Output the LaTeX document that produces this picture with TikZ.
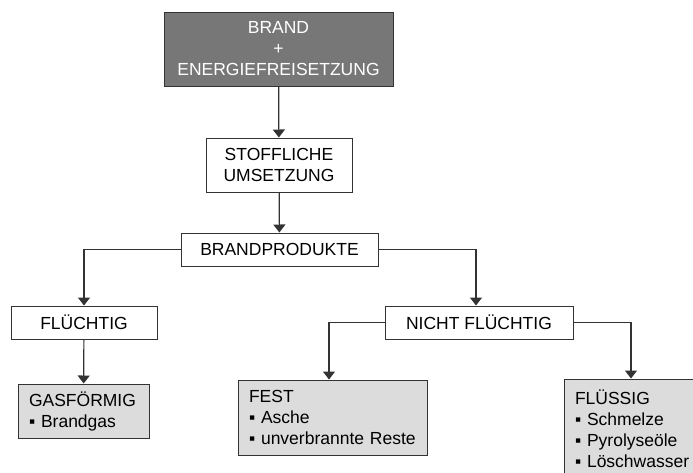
\documentclass[tikz,border=0pt]{standalone}
\usepackage{fontspec}
\setmainfont{Liberation Sans}
\usetikzlibrary{arrows.meta}
\definecolor{darkbox}{HTML}{777777}
\definecolor{lightbox}{HTML}{DCDCDC}
\definecolor{linegray}{HTML}{333333}

\begin{document}
\begin{tikzpicture}[x=1pt, y=-1pt, font=\fontsize{17.5}{21}\selectfont, main/.style={draw=linegray, line width=1pt, align=center, inner sep=0pt}, top/.style={main, fill=darkbox, text=white}, info/.style={main, fill=lightbox, align=left, inner xsep=11pt}, n/.style={-{Triangle[width=12pt, length=8pt]}, draw=linegray, line width=1.2pt}]
            \useasboundingbox (0,0) rectangle (693,472);
            \clip (0,0) rectangle (693,472);
            % nodes
            \node[top, minimum width=229pt, minimum height=74pt] (brand) at (278.5,49) {BRAND\\+\\ENERGIEFREISETZUNG};
            \node[main, minimum width=146pt, minimum height=54pt] (stoff) at (279,165) {STOFFLICHE\\UMSETZUNG};
            \node[main, minimum width=197pt, minimum height=33pt] (prod) at (279.5,249.5) {BRANDPRODUKTE};
            \node[main, minimum width=146pt, minimum height=33pt] (fl) at (84,322.5) {FLÜCHTIG};
            \node[main, minimum width=188pt, minimum height=33pt] (nf) at (479,322.5) {NICHT FLÜCHTIG};
            \node[info, text width=109pt, minimum height=54pt] (gas) at (83.5,411) {GASFÖRMIG\\▪ Brandgas};
            \node[info, text width=167pt, minimum height=75pt] (fest) at (332.5,417.5) {FEST\\▪ Asche\\▪ unverbrannte Reste};
            \node[info, text width=119pt, minimum height=100pt] (fluessig) at (634.5,429) {FLÜSSIG\\▪ Schmelze\\▪ Pyrolyseöle\\▪ Löschwasser};
            % edges
            \draw [n] (brand) -- (stoff);
            \draw [n] (stoff) -- (prod);
            \draw [n] (prod.west) -| (fl.north);
            \draw [n] (prod.east) -| ([xshift=-3pt]nf.north);
            \draw [n] (fl) -- (gas);
            \draw [n] (nf.west) -| ([xshift=-3.5pt]fest.north);
            \draw [n] (nf.east) -| ([xshift=-3.5pt]fluessig.north);
        \end{tikzpicture}
\end{document}
